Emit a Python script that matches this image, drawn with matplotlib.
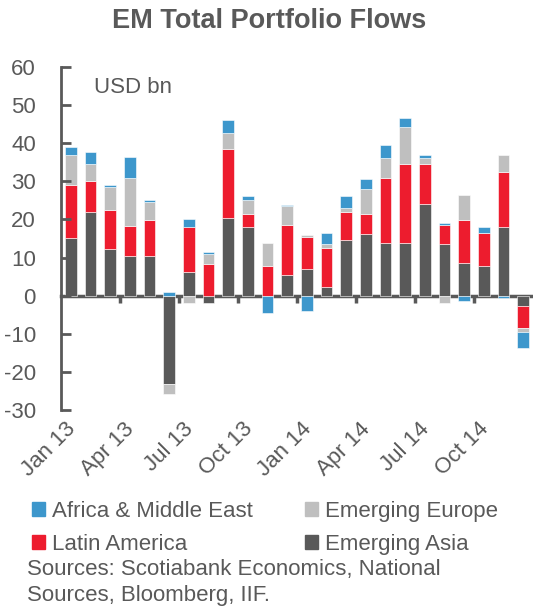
import matplotlib
matplotlib.use("Agg")
import matplotlib.pyplot as plt
import matplotlib.transforms as mtransforms
from matplotlib.patches import Patch
import numpy as np

plt.rcParams['font.family'] = ['Liberation Sans', 'DejaVu Sans']
plt.rcParams['axes.unicode_minus'] = False

# monthly flows, USD bn, Jan 13 .. Dec 14
months = ["Jan 13", "Feb 13", "Mar 13", "Apr 13", "May 13", "Jun 13",
          "Jul 13", "Aug 13", "Sep 13", "Oct 13", "Nov 13", "Dec 13",
          "Jan 14", "Feb 14", "Mar 14", "Apr 14", "May 14", "Jun 14",
          "Jul 14", "Aug 14", "Sep 14", "Oct 14", "Nov 14", "Dec 14"]
asia = [15.0, 21.9, 12.3, 10.4, 10.4, -23.2, 6.3, -2.0, 20.5, 18.0, 0.0, 5.4,
        7.0, 2.4, 14.5, 16.1, 13.9, 13.9, 24.0, 13.5, 8.5, 7.9, 18.0, -2.6]
latam = [14.0, 8.1, 10.1, 8.0, 9.5, 0.0, 11.7, 8.4, 18.0, 3.5, 7.9, 13.1,
         8.5, 10.0, 7.4, 5.3, 17.1, 20.6, 10.5, 5.0, 11.4, 8.6, 14.5, -5.9]
europe = [8.0, 4.5, 6.2, 12.6, 4.6, -2.5, -2.0, 2.5, 4.1, 3.6, 6.0, 5.0,
          0.4, 1.2, 1.1, 6.7, 5.1, 9.7, 1.6, -2.0, 6.6, 0.0, 4.5, -1.1]
africa = [2.0, 3.1, 0.4, 5.5, 0.5, 1.0, 2.0, 0.5, 3.5, 1.0, -4.5, 0.4,
          -4.0, 2.8, 3.1, 2.5, 3.5, 2.4, 0.9, 0.5, -1.5, 1.5, -0.5, -4.1]

series = [("Emerging Asia", asia, "#595959"),
          ("Latin America", latam, "#ED1C2E"),
          ("Emerging Europe", europe, "#BFBFBF"),
          ("Africa & Middle East", africa, "#3D97CC")]

txt = "#595959"

fig = plt.figure(figsize=(5.33, 6.08), dpi=100)
ax = fig.add_axes([61 / 533, 1 - 410 / 608, 1 - 61 / 533, (410 - 67) / 608])

x = np.arange(len(months))
pos = np.zeros(len(months))
neg = np.zeros(len(months))
for name, vals, col in series:
    v = np.array(vals)
    bottom = np.where(v >= 0, pos, neg)
    ax.bar(x, v, 0.58, bottom=bottom, color=col, edgecolor="white", linewidth=0.4)
    pos = pos + np.clip(v, 0, None)
    neg = neg + np.clip(v, None, 0)

ax.set_xlim(-0.5, len(months) - 0.5)
ax.set_ylim(-30, 60)
ax.set_yticks(range(-30, 61, 10))
ax.tick_params(axis="y", direction="in", length=7, width=2, color=txt,
               labelcolor=txt, labelsize=16, pad=18)
ax.spines["left"].set_color(txt)
ax.spines["left"].set_linewidth(2)
ax.spines["top"].set_visible(False)
ax.spines["right"].set_visible(False)
ax.spines["bottom"].set_position(("data", 0))
ax.spines["bottom"].set_color(txt)
ax.spines["bottom"].set_linewidth(2.5)
ax.spines["bottom"].set_zorder(0.5)

# tick marks between categories, labels every quarter
ax.set_xticks(np.arange(2.5, 21, 3))
ax.tick_params(axis="x", direction="out", length=5, width=2.5, color=txt,
               labelbottom=False)
trans = mtransforms.blended_transform_factory(ax.transData, ax.transAxes)
for i in range(0, len(months), 3):
    ax.text(i - 0.3, -0.025, months[i], transform=trans, rotation=45,
            rotation_mode="anchor", ha="right", va="top", fontsize=16, color=txt)

ax.text(0.07, 0.97, "USD bn", transform=ax.transAxes, ha="left", va="top",
        fontsize=16, color=txt)

fig.text(0.505, 0.966, "EM Total Portfolio Flows", ha="center", va="center",
         fontsize=19.5, fontweight="bold", color=txt)

handles = [Patch(color=series[3][2], label=series[3][0]),
           Patch(color=series[1][2], label=series[1][0]),
           Patch(color=series[2][2], label=series[2][0]),
           Patch(color=series[0][2], label=series[0][0])]
leg = fig.legend(handles=handles, ncol=2, loc="upper left",
                 bbox_to_anchor=(32 / 533, 1 - 501 / 608), frameon=False,
                 fontsize=16, handlelength=0.6, handleheight=0.6,
                 handletextpad=0.3, columnspacing=2.35, labelspacing=0.55,
                 borderaxespad=0, borderpad=0)
for t in leg.get_texts():
    t.set_color(txt)

fig.text(27 / 533, 1 - 570 / 608, "Sources: Scotiabank Economics, National",
         ha="left", va="center", fontsize=16, color=txt)
fig.text(27 / 533, 1 - 595 / 608, "Sources, Bloomberg, IIF.",
         ha="left", va="center", fontsize=16, color=txt)

plt.savefig("out.png", dpi=100)
plt.close()
